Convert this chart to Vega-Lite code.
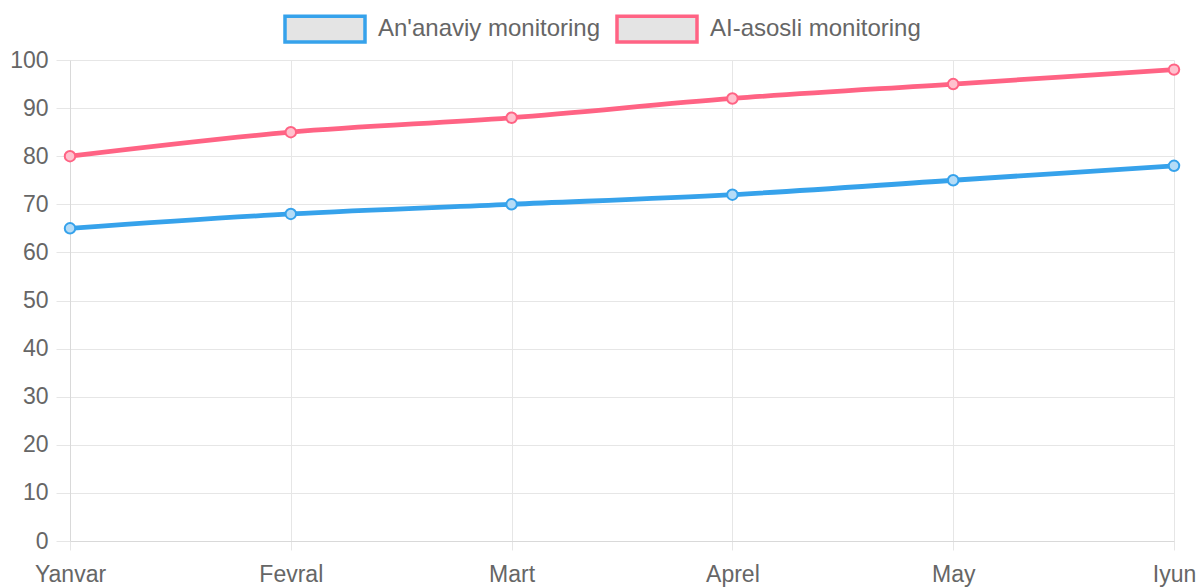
{
  "$schema": "https://vega.github.io/schema/vega-lite/v6.json",
  "width": 1104,
  "height": 481,
  "autosize": {"type": "none"},
  "padding": {"left": 70, "top": 60, "right": 26, "bottom": 47},
  "background": "white",
  "config": {
    "view": {"stroke": null},
    "font": "Liberation Sans",
    "axis": {
      "labelFont": "Liberation Sans",
      "labelFontSize": 23,
      "labelColor": "#666666",
      "gridColor": "#e6e6e6",
      "gridWidth": 1,
      "tickColor": "#e6e6e6",
      "domainColor": "#d9d9d9",
      "tickSize": 10,
      "title": null
    }
  },
  "data": {
    "values": [
      {"month": "Yanvar", "series": "An'anaviy monitoring", "value": 65},
      {"month": "Fevral", "series": "An'anaviy monitoring", "value": 68},
      {"month": "Mart", "series": "An'anaviy monitoring", "value": 70},
      {"month": "Aprel", "series": "An'anaviy monitoring", "value": 72},
      {"month": "May", "series": "An'anaviy monitoring", "value": 75},
      {"month": "Iyun", "series": "An'anaviy monitoring", "value": 78},
      {"month": "Yanvar", "series": "AI-asosli monitoring", "value": 80},
      {"month": "Fevral", "series": "AI-asosli monitoring", "value": 85},
      {"month": "Mart", "series": "AI-asosli monitoring", "value": 88},
      {"month": "Aprel", "series": "AI-asosli monitoring", "value": 92},
      {"month": "May", "series": "AI-asosli monitoring", "value": 95},
      {"month": "Iyun", "series": "AI-asosli monitoring", "value": 98}
    ]
  },
  "encoding": {
    "x": {
      "field": "month",
      "type": "ordinal",
      "sort": ["Yanvar", "Fevral", "Mart", "Aprel", "May", "Iyun"],
      "scale": {"type": "point", "padding": 0},
      "axis": {"labelAngle": 0, "labelPadding": 13, "grid": true, "tickSize": 9}
    },
    "y": {
      "field": "value",
      "type": "quantitative",
      "scale": {"domain": [0, 100], "nice": false},
      "axis": {"values": [0,10,20,30,40,50,60,70,80,90,100], "tickSize": 14, "labelPadding": 8, "grid": true}
    },
    "color": {
      "field": "series",
      "type": "nominal",
      "sort": ["An'anaviy monitoring", "AI-asosli monitoring"],
      "scale": {"domain": ["An'anaviy monitoring", "AI-asosli monitoring"], "range": ["#36A2EB", "#FF6384"]},
      "legend": {
        "title": null,
        "orient": "none",
        "direction": "horizontal",
        "legendX": 213,
        "legendY": -73,
        "symbolType": "M-1,-0.32H1V0.32H-1Z",
        "symbolSize": 6400,
        "symbolStrokeWidth": 3.5,
        "symbolFillColor": "#e4e4e4",
        "labelFont": "Liberation Sans",
        "labelFontSize": 24,
        "labelColor": "#666666",
        "labelOffset": 11,
        "columnPadding": 9,
        "labelLimit": 400,
        "encode": {"symbols": {"update": {"fill": {"value": "#e4e4e4"}, "fillOpacity": {"value": 1}}}}
      }
    }
  },
  "layer": [
    {
      "mark": {"type": "line", "strokeWidth": 4.8, "interpolate": "monotone"}
    },
    {
      "transform": [{"filter": "datum.series === \"An'anaviy monitoring\""}],
      "mark": {"type": "point", "shape": "circle", "size": 110, "strokeWidth": 2, "filled": false, "fill": "#b5dcf7", "opacity": 1}
    },
    {
      "transform": [{"filter": "datum.series === 'AI-asosli monitoring'"}],
      "mark": {"type": "point", "shape": "circle", "size": 110, "strokeWidth": 2, "filled": false, "fill": "#ffc1ce", "opacity": 1}
    }
  ]
}
